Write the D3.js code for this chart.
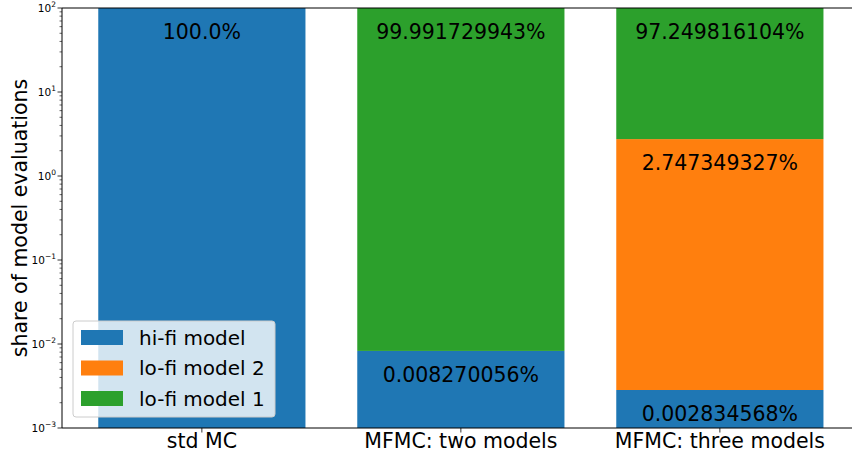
<!DOCTYPE html>
<html>
<head>
<meta charset="utf-8">
<script src="https://cdn.jsdelivr.net/npm/d3@7"></script>
<style>
  body { margin: 0; background: #fff; }
  svg { font-family: "DejaVu Sans", sans-serif; }
</style>
</head>
<body>
<div id="chart"></div>
<script>
// data
let categories = ["std MC", "MFMC: two models", "MFMC: three models"];
let hifi = [100.0, 0.008270056, 0.002834568];
let lofi2 = [0, 0, 2.747349327];
let lofi1 = [0, 99.991729943, 97.249816104];
let hifiLabels = ["100.0%", "0.008270056%", "0.002834568%"];
let lofi2Labels = ["", "", "2.747349327%"];
let lofi1Labels = ["", "99.991729943%", "97.249816104%"];
let seriesNames = ["hi-fi model", "lo-fi model 2", "lo-fi model 1"];
let colors = ["#1f77b4", "#ff7f0e", "#2ca02c"];
let yTicks = [1e-3, 1e-2, 1e-1, 1e0, 1e1, 1e2];

var fullW = 852, fullH = 459;
var margin = {top: 8, left: 62, bottom: 31};
var height = fullH - margin.top - margin.bottom;
var step = 259;

var svg = d3.select("#chart").append("svg")
    .attr("width", fullW)
    .attr("height", fullH);

var g = svg.append("g")
    .attr("transform", "translate(" + margin.left + "," + margin.top + ")");

// x: matplotlib-style linear positions, xlim (-0.54, 2.54)
var x = d3.scaleLinear()
    .domain([-0.54, 2.54])
    .range([0, 3.08 * step]);
var barW = 0.8 * step;

var y = d3.scaleLog()
    .domain([1e-3, 1e2])
    .range([height, 0]);

// stack segments
let segs = [];
categories.forEach((c, i) => {
    let b0 = 1e-3;
    let t0 = hifi[i];
    segs.push({i: i, s: 0, lo: b0, hi: t0, label: hifiLabels[i]});
    if (lofi2[i] > 0) {
        segs.push({i: i, s: 1, lo: t0, hi: t0 + lofi2[i], label: lofi2Labels[i]});
    }
    let t1 = t0 + lofi2[i];
    if (lofi1[i] > 0) {
        segs.push({i: i, s: 2, lo: t1, hi: t1 + lofi1[i], label: lofi1Labels[i]});
    }
});

g.selectAll("rect.bar")
    .data(segs)
    .enter()
    .append("rect")
        .attr("class", "bar")
        .attr("x", d => x(d.i) - barW / 2)
        .attr("width", barW)
        .attr("y", d => y(Math.min(d.hi, 1e2)))
        .attr("height", d => y(d.lo) - y(Math.min(d.hi, 1e2)))
        .attr("fill", d => colors[d.s]);

// bar labels
g.selectAll("text.lbl")
    .data(segs.filter(d => d.label))
    .enter()
    .append("text")
        .attr("class", "lbl")
        .attr("x", d => x(d.i))
        .attr("y", d => y(Math.min(d.hi, 1e2)) + 24)
        .attr("text-anchor", "middle")
        .attr("dominant-baseline", "central")
        .attr("font-size", "20.5px")
        .attr("fill", "#000")
        .text(d => d.label);

// spines
g.append("line")
    .attr("x1", 0).attr("x2", fullW - margin.left)
    .attr("y1", 0).attr("y2", 0)
    .attr("stroke", "#000").attr("stroke-width", 1);
g.append("line")
    .attr("x1", 0).attr("x2", fullW - margin.left)
    .attr("y1", height).attr("y2", height)
    .attr("stroke", "#000").attr("stroke-width", 1);
g.append("line")
    .attr("x1", 0).attr("x2", 0)
    .attr("y1", 0).attr("y2", height)
    .attr("stroke", "#000").attr("stroke-width", 1);

// x axis ticks
var xAxis = g.append("g")
    .attr("transform", "translate(0," + height + ")");
categories.forEach((c, i) => {
    xAxis.append("line")
        .attr("x1", x(i)).attr("x2", x(i))
        .attr("y1", 0).attr("y2", 4.5)
        .attr("stroke", "#000").attr("stroke-width", 0.8);
    xAxis.append("text")
        .attr("x", x(i))
        .attr("y", 20)
        .attr("text-anchor", "middle")
        .attr("font-size", "20.5px")
        .text(c);
});

// y axis: major + minor ticks
var yAxis = g.append("g");
let minor = [];
for (let e = -3; e < 2; e++) {
    for (let k = 2; k <= 9; k++) minor.push(k * Math.pow(10, e));
}
yAxis.selectAll("line.minor")
    .data(minor)
    .enter()
    .append("line")
        .attr("x1", -2.5).attr("x2", 0)
        .attr("y1", d => y(d)).attr("y2", d => y(d))
        .attr("stroke", "#000").attr("stroke-width", 0.6);
yAxis.selectAll("line.major")
    .data(yTicks)
    .enter()
    .append("line")
        .attr("x1", -4.5).attr("x2", 0)
        .attr("y1", d => y(d)).attr("y2", d => y(d))
        .attr("stroke", "#000").attr("stroke-width", 0.8);
var tl = yAxis.selectAll("text.tick")
    .data(yTicks)
    .enter()
    .append("text")
        .attr("x", -6)
        .attr("y", d => y(d) + 4)
        .attr("text-anchor", "end")
        .attr("font-size", "10.5px");
tl.append("tspan").text("10");
tl.append("tspan")
    .attr("dy", -5)
    .attr("font-size", "7.5px")
    .text(d => {
        let e = Math.round(Math.log10(d));
        return e < 0 ? "\u2212" + (-e) : "" + e;
    });

// y label
svg.append("text")
    .attr("transform", "translate(27," + (margin.top + height / 2) + ") rotate(-90)")
    .attr("text-anchor", "middle")
    .attr("font-size", "20.5px")
    .text("share of model evaluations");

// legend
var leg = svg.append("g").attr("transform", "translate(73,321)");
leg.append("rect")
    .attr("width", 202).attr("height", 96)
    .attr("rx", 3)
    .attr("fill", "#fff").attr("fill-opacity", 0.8)
    .attr("stroke", "#ccc").attr("stroke-width", 1);
seriesNames.forEach((n, i) => {
    leg.append("rect")
        .attr("x", 8).attr("y", 9 + i * 30.5)
        .attr("width", 42).attr("height", 15)
        .attr("fill", colors[i]);
    leg.append("text")
        .attr("x", 66).attr("y", 16.5 + i * 30.5)
        .attr("dominant-baseline", "central")
        .attr("font-size", "20px")
        .text(n);
});
</script>
</body>
</html>
